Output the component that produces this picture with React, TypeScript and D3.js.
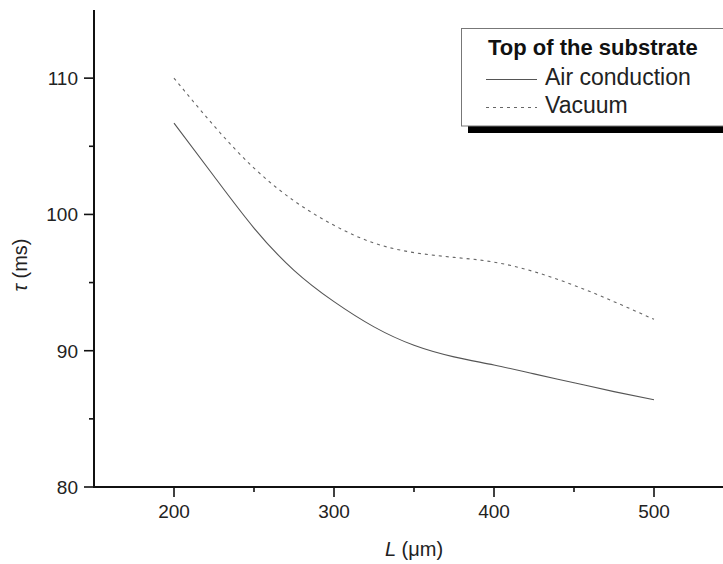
import React from "react";
import * as d3 from "d3";

const lengths = [200, 225, 250, 275, 300, 325, 350, 375, 400, 425, 450, 475, 500];
const airConduction = [106.7, 102.8, 99.0, 95.9, 93.6, 91.75, 90.4, 89.55, 88.95, 88.3, 87.65, 87.0, 86.4];
const vacuum = [110.0, 106.5, 103.4, 101.0, 99.2, 97.9, 97.2, 96.85, 96.5, 95.8, 94.8, 93.6, 92.3];
const xMajorTicks = [200, 300, 400, 500];
const xMinorTicks = [250, 350, 450];
const yMajorTicks = [80, 90, 100, 110];
const yMinorTicks = [85, 95, 105];
const legendTitle = "Top of the substrate";
const seriesNames = ["Air conduction", "Vacuum"];

const W = 723;
const H = 564;
const FONT = "Arial, 'Liberation Sans', Helvetica, sans-serif";

export default function App() {
  const x = d3.scaleLinear().domain([150, 550]).range([94, 734]);
  const y = d3.scaleLinear().domain([80, 115]).range([487, 10]);
  const line = d3
    .line<number>()
    .x((_, i) => x(lengths[i]))
    .y((d) => y(d))
    .curve(d3.curveNatural);

  const x0 = x(150);
  const y0 = y(80);

  return (
    <svg
      width={W}
      height={H}
      style={{ position: "absolute", left: 0, top: 0, background: "#fff" }}
      fontFamily={FONT}
    >
      <rect x={0} y={0} width={W} height={H} fill="#fff" />
      {/* curves */}
      <path d={line(airConduction) || ""} fill="none" stroke="#555" strokeWidth={1.1} />
      <path
        d={line(vacuum) || ""}
        fill="none"
        stroke="#666"
        strokeWidth={1.1}
        strokeDasharray="3,4"
      />

      {/* axes */}
      <line x1={x0} x2={x0} y1={y(115)} y2={y0 + 1} stroke="#111" strokeWidth={2} />
      <line x1={x0 - 1} x2={W + 10} y1={y0} y2={y0} stroke="#111" strokeWidth={2} />
      {xMajorTicks.map((t) => (
        <g key={"xm" + t}>
          <line x1={x(t)} x2={x(t)} y1={y0} y2={y0 + 10} stroke="#111" strokeWidth={1.6} />
          <text x={x(t)} y={518} textAnchor="middle" fontSize={19} fill="#222">
            {t}
          </text>
        </g>
      ))}
      {xMinorTicks.map((t) => (
        <line key={"xn" + t} x1={x(t)} x2={x(t)} y1={y0} y2={y0 + 5} stroke="#111" strokeWidth={1.6} />
      ))}
      {yMajorTicks.map((t) => (
        <g key={"ym" + t}>
          <line x1={x0 - 10} x2={x0} y1={y(t)} y2={y(t)} stroke="#111" strokeWidth={1.6} />
          <text x={78} y={y(t) + 7} textAnchor="end" fontSize={19} fill="#222">
            {t}
          </text>
        </g>
      ))}
      {yMinorTicks.map((t) => (
        <line key={"yn" + t} x1={x0 - 5} x2={x0} y1={y(t)} y2={y(t)} stroke="#111" strokeWidth={1.6} />
      ))}

      {/* axis titles */}
      <text x={414} y={556} textAnchor="middle" fontSize={20} fill="#222">
        <tspan fontStyle="italic">L</tspan>
        <tspan> (μm)</tspan>
      </text>
      <text
        transform="translate(27,265) rotate(-90)"
        textAnchor="middle"
        fontSize={20}
        fill="#222"
      >
        <tspan fontStyle="italic">τ</tspan>
        <tspan> (ms)</tspan>
      </text>

      {/* legend */}
      <rect x={468} y={126} width={W} height={7} fill="#000" />
      <rect x={461.5} y={28.5} width={W} height={97.5} fill="#fff" stroke="#777" strokeWidth={1} />
      <text x={488} y={55} fontSize={22} fontWeight="bold" fill="#111">
        {legendTitle}
      </text>
      <line x1={486} x2={537} y1={79.5} y2={79.5} stroke="#555" strokeWidth={1.1} />
      <text x={545} y={85} fontSize={23} fill="#222">
        {seriesNames[0]}
      </text>
      <line x1={486} x2={537} y1={107.5} y2={107.5} stroke="#666" strokeWidth={1.1} strokeDasharray="3,4" />
      <text x={545} y={113} fontSize={23} fill="#222">
        {seriesNames[1]}
      </text>
    </svg>
  );
}
